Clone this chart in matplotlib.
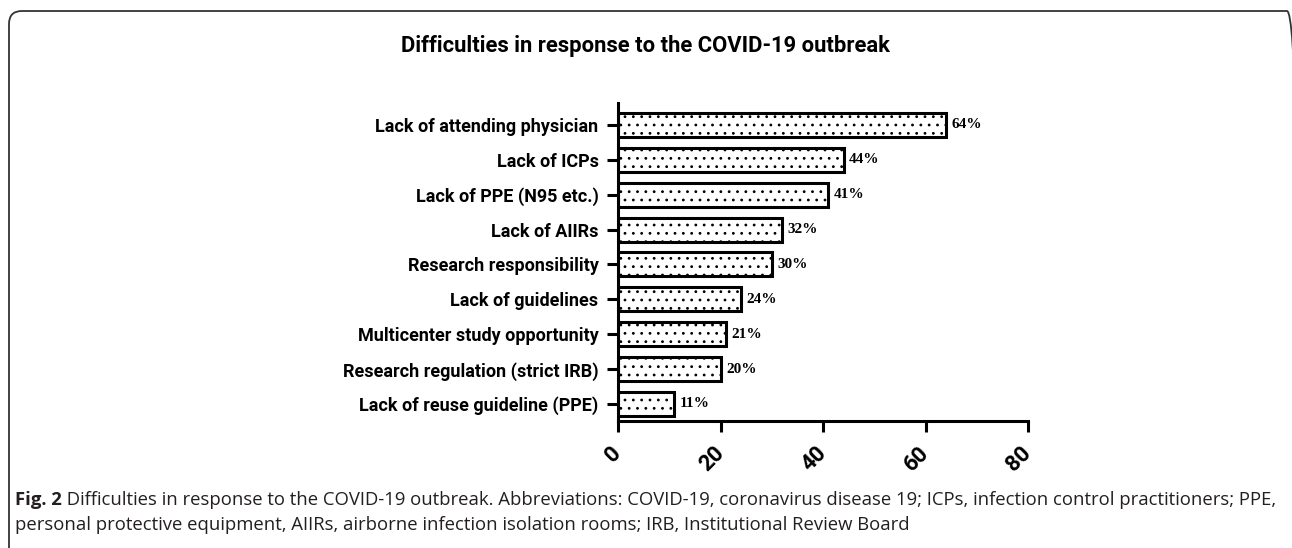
import matplotlib
matplotlib.use("Agg")
import matplotlib.pyplot as plt
from matplotlib.patches import FancyBboxPatch
from matplotlib.transforms import IdentityTransform

# data (bottom to top)
categories = ["Lack of reuse guideline (PPE)", "Research regulation (strict IRB)",
              "Multicenter study opportunity", "Lack of guidelines",
              "Research responsibility", "Lack of AIIRs", "Lack of PPE (N95 etc.)",
              "Lack of ICPs", "Lack of attending physician"]
values = [11, 20, 21, 24, 30, 32, 41, 44, 64]
xticks = [0, 20, 40, 60, 80]

title = "Difficulties in response to the COVID-19 outbreak"
caption_bold = "Fig. 2"
caption_1 = (" Difficulties in response to the COVID-19 outbreak. Abbreviations: COVID-19, "
             "coronavirus disease 19; ICPs, infection control practitioners; PPE,")
caption_2 = ("personal protective equipment, AIIRs, airborne infection isolation rooms; "
             "IRB, Institutional Review Board")

sans = ["Roboto", "Liberation Sans"]
plt.rcParams["hatch.linewidth"] = 0.8

fig = plt.figure(figsize=(12.92, 5.48), dpi=100)
W, H = 1292, 548

# rounded frame around the figure panel
frame = FancyBboxPatch((9, -30), 1300 - 9, H - 11 + 30,
                       boxstyle="round,pad=0,rounding_size=13",
                       transform=IdentityTransform(), fill=False,
                       edgecolor="#333333", linewidth=1.3)
fig.patches.append(frame)

ax = fig.add_axes([618 / W, (H - 421) / H, (1028 - 618) / W, (421 - 103) / H])
ypos = list(range(len(categories)))
ax.barh(ypos, values, height=0.69, color="white", edgecolor="black",
        linewidth=2.2, hatch="..")
for y, v in zip(ypos, values):
    ax.text(v + 1.1, y, f"{v}%", va="center", ha="left",
            fontfamily="Liberation Serif", fontweight="bold", fontsize=11)

ax.set_xlim(0, 80)
ax.set_ylim(-0.49, 8.63)
ax.set_yticks(ypos)
ax.set_yticklabels(categories, fontfamily=sans, fontweight="bold",
                   fontsize=13)
ax.set_xticks(xticks)
ax.set_xticklabels([str(t) for t in xticks], rotation=45, ha="right",
                   va="center", rotation_mode="anchor", fontfamily=sans,
                   fontweight="bold", fontsize=16)
ax.tick_params(axis="both", length=8, width=2.2, direction="out")
ax.tick_params(axis="x", pad=13)
ax.tick_params(axis="y", pad=6)
for s in ["top", "right"]:
    ax.spines[s].set_visible(False)
for s in ["left", "bottom"]:
    ax.spines[s].set_linewidth(2.2)

fig.text(645 / W, (H - 46) / H, title, ha="center", va="center",
         fontfamily=sans, fontweight="bold", fontsize=15.8)

cap_color = "#231f20"
cap_size = 13.3
t = fig.text(15 / W, (H - 500) / H, caption_bold, ha="left", va="center",
             fontfamily="Open Sans", fontweight="bold", fontsize=cap_size,
             color=cap_color)
fig.canvas.draw()
bb = t.get_window_extent()
fig.text(bb.x1 / W, (H - 500) / H, caption_1, ha="left", va="center",
         fontfamily="Open Sans", fontsize=cap_size, color=cap_color)
fig.text(15 / W, (H - 525) / H, caption_2, ha="left", va="center",
         fontfamily="Open Sans", fontsize=cap_size, color=cap_color)

fig.savefig("out.png", dpi=100)
